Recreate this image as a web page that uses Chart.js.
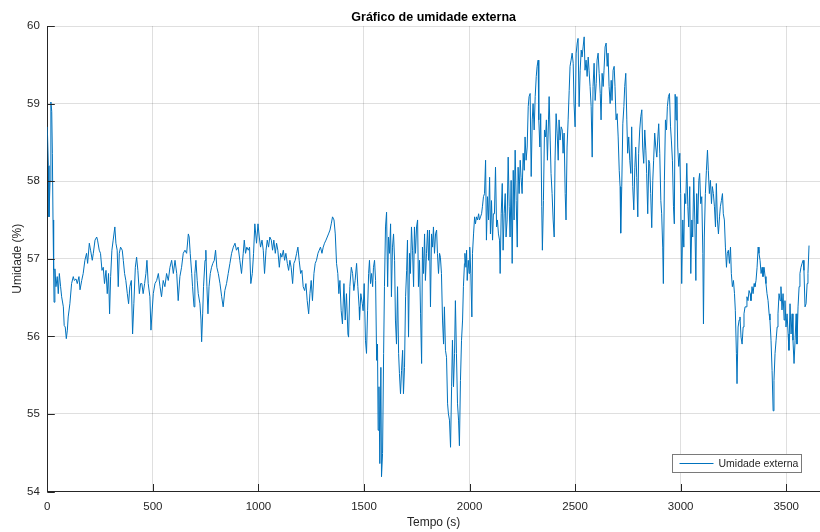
<!DOCTYPE html>
<html>
<head>
<meta charset="utf-8">
<title>Gráfico de umidade externa</title>
<script src="https://cdn.jsdelivr.net/npm/chart.js@4/dist/chart.umd.min.js"></script>
<style>
  html, body { margin: 0; padding: 0; background: #ffffff; overflow: hidden; }
  canvas { display: block; }
</style>
</head>
<body>
<canvas id="grafico" width="820" height="532"></canvas>
<script>
// Tempo de amostragem (s)
const tempo = [
  0,5,8,13,17,21,24,27,30,32,36,41,47,52,57,63,68,76,80,85,90,95,99,107,115,123,128,136,142,150,
  155,163,170,178,186,191,199,205,213,218,226,234,238,246,252,259,265,271,278,284,290,295,300,306,312,320,325,331,336,341,
  347,355,360,366,372,379,385,391,398,404,410,417,423,429,436,442,448,454,461,467,472,478,486,
  491,497,502,510,518,526,534,541,549,557,565,573,581,589,597,605,613,620,628,636,644,652,660,668,672,677,
  684,688,695,699,704,710,715,723,728,731,736,740,747,751,756,761,766,772,778,784,791,797,803,810,818,826,833,841,849,857,
  865,873,881,889,896,904,912,920,928,933,939,945,952,958,964,971,977,983,
  991,998,1004,1010,1017,1023,1029,1036,1042,1048,1054,1061,1067,1073,1080,1086,1092,1099,1105,1111,1118,1124,1130,1137,1143,1149,1155,1162,1168,1174,
  1181,1187,1193,1200,1206,1212,1219,1225,1231,1238,1244,1250,1256,1263,1269,1275,1282,1288,1294,1301,1307,1313,1320,1326,1332,1339,1345,1351,1358,1364,
  1370,1376,1381,1386,1392,1398,1405,1411,1417,1424,1427,1433,1440,1446,1452,1458,1465,1471,1477,
  1479,1485,1492,1496,1501,1507,1512,1517,1522,1526,1531,1536,1541,1545,1550,1555,1560,1564,1567,1571,1575,1580,1583,1588,1593,1597,1602,1607,1612,1616,
  1621,1626,1630,1635,1640,1645,1649,1654,1659,1664,1668,1673,1678,1683,1687,1692,1697,1702,1706,1711,1716,1720,1725,1730,1735,1739,1744,1749,1754,1758,
  1763,1768,1773,1777,1782,1787,1791,1796,1801,1806,1810,1815,1820,1825,1829,1834,1839,1844,1848,1853,1858,1862,1867,1872,1877,1881,1886,1891,1896,1900,
  1905,1910,1915,1919,1924,1929,1933,1938,1943,1948,1952,1957,1962,1967,1971,1976,
  1978,1983,1986,1989,1994,1998,2001,2006,2011,2014,2019,2024,2028,2033,2038,2043,2047,2052,2057,2061,2066,2071,2076,2080,2085,2090,2095,2099,2104,2109,
  2113,2118,2123,2128,2132,2137,2142,2145,2150,2155,2159,2164,2169,2173,2178,2183,2188,2192,2197,2202,2207,2211,2216,2221,2226,2230,2235,2240,2244,2249,
  2254,2259,2263,2268,2273,2278,2282,2287,2292,2297,2301,2306,2311,2316,2320,2325,2328,2333,2337,2342,2345,2350,2355,2360,2364,2369,2374,2377,2382,2386,
  2391,2396,2401,2405,2410,2415,2420,2424,2429,2434,2439,2443,2448,2453,2457,2462,2467,2472,
  2476,2481,2486,2491,2495,2500,2505,2510,2514,2519,2524,2529,2533,2538,2543,2547,2552,2557,2562,2566,2571,2576,2581,2585,2590,2595,2600,2604,2609,2614,
  2619,2623,2628,2633,2637,2642,2647,2652,2656,2661,2666,2671,2675,2680,2685,2689,2694,2699,2704,2709,2713,2716,2721,2726,2731,2735,2740,2745,2749,2754,
  2759,2764,2768,2773,2778,2783,2787,2792,2797,2801,2806,2811,2816,2820,2825,2830,2835,2839,2844,2849,2853,2858,2863,2868,2872,2877,2882,2887,2892,2896,
  2901,2906,2910,2915,2918,2923,2928,2933,2937,2942,2947,2952,2956,2961,2966,2970,
  2974,2978,2982,2986,2991,2996,3000,3005,3010,3015,3019,3024,3029,3034,3038,3043,3048,3053,3057,3062,3067,3072,3076,3081,3086,3090,3095,3100,3105,3108,
  3112,3117,3122,3127,3131,3136,3141,3146,3150,3155,3160,3165,3169,3174,3179,3184,3188,3193,3198,3202,3207,3212,3217,3221,3226,3231,3236,3240,3245,3250,
  3255,3259,3264,3267,3272,3277,3281,3286,3291,3296,3300,3305,3310,3314,3319,3324,3329,3333,3338,3343,3348,3352,3357,3362,3367,3371,3376,3381,3386,3390,
  3395,3400,3404,3409,3414,3419,3423,3428,3433,3438,3442,3447,3452,3457,3461,3466,3471,3475,3480,3485,3490,3494,3499,3504,3509,3513,3518,3523,3528,3532,
  3537,3542,3547,3551,3556,3561,3565,3570,3575,3580,3584,3589,3594,3599,3603,3608
];

// Umidade relativa externa (%)
const umidade = [
  58.70,58.20,57.54,58.00,59.02,58.90,58.36,57.50,56.85,56.44,56.87,56.64,56.77,56.55,56.81,56.64,56.51,56.38,56.14,56.12,55.97,56.08,56.25,56.42,56.68,56.77,56.72,56.74,56.68,56.77,
  56.60,56.72,56.81,56.98,57.07,56.94,57.20,57.11,56.98,57.07,57.24,57.28,57.24,57.11,57.07,56.85,56.89,56.68,56.85,56.55,56.81,56.29,56.77,57.11,57.24,57.41,57.20,57.11,56.64,57.07,
  57.15,57.11,56.98,56.81,56.72,56.55,56.42,56.64,56.72,56.03,56.42,56.89,57.02,56.85,56.55,56.68,56.68,56.55,56.68,56.81,56.98,56.68,56.51,
  56.08,56.34,56.55,56.68,56.72,56.81,56.64,56.51,56.72,56.64,56.81,56.72,56.89,56.98,56.81,56.98,56.81,56.46,56.77,56.89,57.07,57.11,57.07,57.32,57.28,57.07,
  56.81,56.64,56.38,56.81,56.98,56.72,56.55,56.42,56.21,55.93,56.29,56.64,56.98,57.11,56.64,56.29,56.64,56.81,56.89,56.94,56.98,57.11,56.89,56.81,56.68,56.51,56.38,56.59,56.68,56.81,
  56.94,57.07,57.15,57.20,57.11,57.15,56.98,56.81,57.07,57.24,57.07,57.15,57.11,57.15,56.68,56.81,57.07,57.45,
  57.20,57.45,57.28,57.15,57.24,57.11,56.81,57.11,57.24,57.15,57.28,57.24,57.11,57.24,57.07,57.20,57.11,56.89,57.07,57.02,57.11,56.98,57.07,56.94,56.85,56.98,56.89,56.68,56.94,56.98,
  57.07,57.15,56.98,56.81,56.85,56.64,56.59,56.68,56.46,56.29,56.55,56.72,56.46,56.81,56.94,56.98,57.07,57.11,57.15,57.07,57.15,57.20,57.24,57.28,57.32,57.37,57.45,57.54,57.50,57.32,
  56.94,56.81,56.55,56.72,56.33,56.16,56.68,56.21,56.55,56.03,55.99,56.64,56.89,56.81,56.59,56.72,56.94,56.64,56.38,
  56.21,56.55,56.42,56.33,56.68,55.95,55.78,56.33,56.81,56.98,56.68,56.81,56.64,56.89,56.98,56.72,55.69,55.90,54.79,55.35,54.36,55.60,54.19,54.49,55.78,56.64,57.41,57.60,56.64,57.28,
  57.07,57.45,56.51,57.15,57.32,56.98,56.21,55.90,56.64,55.78,55.52,55.26,55.56,55.82,55.26,55.60,56.51,56.85,57.24,55.99,57.07,56.81,57.41,57.11,56.64,57.41,57.07,57.41,57.50,56.64,
  56.98,56.29,55.65,57.15,56.81,57.32,56.72,57.07,57.37,56.98,57.37,56.38,57.32,57.15,57.41,57.07,57.32,57.37,57.07,56.81,57.07,57.02,56.81,56.21,55.90,56.38,55.82,55.73,55.13,55.00,
  54.92,54.57,55.35,55.95,55.35,55.78,56.46,55.78,55.13,54.92,54.59,55.43,55.95,56.21,56.64,56.94,
  57.07,56.89,57.11,56.72,56.98,56.81,57.15,56.81,56.25,57.07,57.32,57.54,57.45,57.54,57.50,57.58,57.50,57.54,57.58,57.67,57.80,57.84,58.27,57.24,57.80,57.50,58.05,57.32,57.75,57.24,
  57.58,57.58,58.18,57.41,57.50,57.32,57.24,56.81,57.58,57.97,57.11,57.58,57.84,57.28,57.50,58.31,57.67,57.28,58.01,56.94,58.14,57.50,58.40,57.75,57.15,58.18,57.84,58.27,58.05,57.84,
  58.36,58.14,58.57,58.27,58.44,58.96,59.09,59.13,58.06,58.79,59.00,58.66,59.09,59.35,59.48,59.56,58.79,58.44,58.87,57.67,57.11,57.75,58.66,58.57,58.79,58.27,58.79,59.09,58.53,58.10,
  57.84,57.50,57.28,58.27,58.87,58.62,58.27,58.79,58.53,58.70,58.66,58.36,58.62,57.84,57.50,58.44,58.79,59.17,
  59.48,59.56,59.65,59.52,59.00,58.70,59.65,59.78,59.84,58.96,59.43,59.69,59.60,59.73,59.86,59.43,59.56,59.35,59.60,59.43,59.22,58.96,58.31,59.22,59.52,59.04,59.26,59.56,59.65,59.39,
  59.13,58.79,59.39,59.22,59.43,59.73,59.78,59.48,59.65,59.22,59.00,59.30,59.04,59.43,59.48,59.22,58.79,58.87,58.57,58.14,57.93,57.33,57.93,58.74,58.96,59.22,59.39,58.79,58.36,58.57,
  58.27,58.10,58.70,57.93,57.63,58.18,58.44,58.05,57.54,58.36,58.66,58.83,58.92,58.44,58.23,58.66,58.40,58.10,57.58,58.27,58.23,57.84,57.40,58.01,58.27,58.62,58.44,58.31,58.57,58.74,
  58.36,57.75,57.58,57.15,56.68,58.01,58.79,58.66,58.96,59.09,59.13,58.70,58.53,58.27,57.67,57.45,
  59.12,58.79,59.09,58.44,58.19,58.36,57.84,56.68,57.50,57.15,57.84,57.71,58.23,57.67,57.41,57.93,56.81,57.50,57.28,58.05,57.50,56.72,57.84,57.45,58.01,58.10,57.71,57.80,57.07,56.16,
  57.28,57.84,58.14,58.40,58.14,57.84,58.01,57.71,57.93,57.84,57.67,57.41,57.97,57.50,57.32,57.54,57.67,57.75,57.84,57.58,57.50,57.15,56.89,57.07,57.11,56.94,57.15,56.81,56.64,56.72,
  56.55,56.33,55.78,55.39,56.12,56.21,56.25,55.99,55.90,56.12,56.29,56.38,56.38,56.51,56.46,56.59,56.55,56.46,56.64,56.55,56.68,56.64,56.72,56.89,57.15,57.07,56.98,56.81,56.89,56.77,
  56.89,56.77,56.68,56.55,56.46,56.29,56.21,55.95,55.56,55.04,55.43,55.78,55.95,56.12,56.29,56.55,56.46,56.64,56.34,56.55,56.21,56.46,56.12,56.29,56.03,55.82,56.42,56.03,56.29,55.95,
  55.65,55.95,56.29,55.90,56.38,56.64,56.81,56.89,56.94,56.98,56.85,56.38,56.42,56.68,56.81,57.17
];

const marcasTempo = [0, 500, 1000, 1500, 2000, 2500, 3000, 3500];
const marcasUmidade = [54, 55, 56, 57, 58, 59, 60];
const nomeSerie = 'Umidade externa';

const FONTE = "'Liberation Sans', Arial, Helvetica, sans-serif";
const COR_EIXO = '#262626';
const COR_LINHA = '#0072BD';

// Marcas de escala voltadas para dentro da área do gráfico
const marcasInternas = {
  id: 'marcasInternas',
  afterDraw(chart) {
    const { ctx, chartArea, scales } = chart;
    const comp = 7.5;
    ctx.save();
    ctx.strokeStyle = COR_EIXO;
    ctx.lineWidth = 1;
    ctx.beginPath();
    scales.x.ticks.forEach(t => {
      const px = Math.round(scales.x.getPixelForValue(t.value)) + 0.5;
      ctx.moveTo(px, chartArea.bottom);
      ctx.lineTo(px, chartArea.bottom - comp);
    });
    scales.y.ticks.forEach(t => {
      const py = Math.round(scales.y.getPixelForValue(t.value)) + 0.5;
      ctx.moveTo(chartArea.left, py);
      ctx.lineTo(chartArea.left + comp, py);
    });
    ctx.stroke();
    ctx.restore();
  }
};

// Legenda em caixa no canto inferior direito
const legendaCaixa = {
  id: 'legendaCaixa',
  afterDraw(chart) {
    const { ctx, chartArea } = chart;
    const larg = 129, alt = 18;
    const x0 = Math.round(chartArea.right - 148) + 0.5;
    const y0 = Math.round(chartArea.bottom - 37.5) + 0.5;
    ctx.save();
    ctx.fillStyle = '#ffffff';
    ctx.fillRect(x0, y0, larg, alt);
    ctx.strokeStyle = '#7a7a7a';
    ctx.lineWidth = 1;
    ctx.strokeRect(x0, y0, larg, alt);
    const ym = y0 + alt / 2;
    ctx.strokeStyle = COR_LINHA;
    ctx.beginPath();
    ctx.moveTo(x0 + 7, ym);
    ctx.lineTo(x0 + 41, ym);
    ctx.stroke();
    ctx.fillStyle = COR_EIXO;
    ctx.font = '10.5px ' + FONTE;
    ctx.textBaseline = 'middle';
    ctx.textAlign = 'left';
    ctx.fillText(chart.data.datasets[0].label, x0 + 46, ym + 0.5);
    ctx.restore();
  }
};

const pontos = tempo.map((t, i) => ({ x: t, y: umidade[i] }));

new Chart(document.getElementById('grafico'), {
  type: 'line',
  data: {
    datasets: [{
      label: nomeSerie,
      data: pontos,
      borderColor: COR_LINHA,
      borderWidth: 1,
      pointRadius: 0,
      tension: 0,
      fill: false
    }]
  },
  options: {
    responsive: false,
    animation: false,
    devicePixelRatio: 1,
    layout: { padding: { left: 0, right: 0, top: 0, bottom: 0 } },
    plugins: {
      legend: { display: false },
      tooltip: { enabled: false },
      title: {
        display: true,
        text: 'Gráfico de umidade externa',
        fullSize: false,
        color: '#000000',
        font: { family: FONTE, size: 12.5, weight: 'bold' },
        padding: { top: 10.5, bottom: 0.5 }
      }
    },
    scales: {
      x: {
        type: 'linear',
        min: 0,
        max: 3660,
        afterBuildTicks: s => { s.ticks = marcasTempo.map(v => ({ value: v })); },
        afterFit: s => { s.height = 40.5; },
        grid: { color: 'rgba(38,38,38,0.15)', drawTicks: false },
        border: { color: COR_EIXO, width: 1 },
        ticks: {
          color: COR_EIXO,
          font: { family: FONTE, size: 11.5 },
          padding: 8.5,
          maxRotation: 0,
          autoSkip: false,
          callback: v => String(v)
        },
        title: {
          display: true,
          text: 'Tempo (s)',
          color: COR_EIXO,
          font: { family: FONTE, size: 12 },
          padding: { top: 1.7, bottom: 1.8 }
        }
      },
      y: {
        type: 'linear',
        min: 54,
        max: 60,
        afterBuildTicks: s => { s.ticks = marcasUmidade.map(v => ({ value: v })); },
        afterFit: s => { s.width = 47.3; },
        grid: { color: 'rgba(38,38,38,0.15)', drawTicks: false },
        border: { color: COR_EIXO, width: 1 },
        ticks: {
          color: COR_EIXO,
          font: { family: FONTE, size: 11.5 },
          padding: 7.5,
          callback: v => String(v)
        },
        title: {
          display: true,
          text: 'Umidade (%)',
          color: COR_EIXO,
          font: { family: FONTE, size: 12 },
          padding: { top: 10.8, bottom: 2 }
        }
      }
    }
  },
  plugins: [marcasInternas, legendaCaixa]
});
</script>
</body>
</html>
